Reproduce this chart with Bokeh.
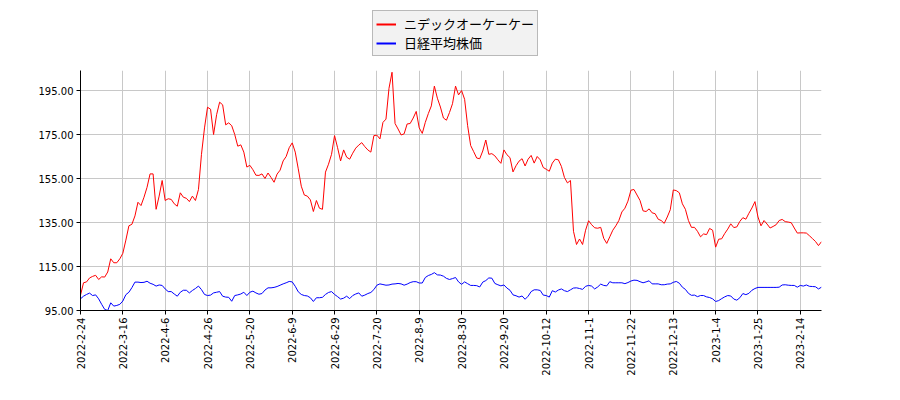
import math
from bokeh.plotting import figure
from bokeh.layouts import column
from bokeh.models import Range1d, FixedTicker, PrintfTickFormatter, Legend, LegendItem
from bokeh.embed import file_html
from bokeh.resources import INLINE

# daily closes, both series rebased to the same starting level
nidec_okk = [
    102, 107.6, 108, 109.8, 110.5, 111, 109.1, 110.3, 110.2, 112.5,
    118.5, 116.7, 116.7, 118.5, 121, 127, 133.5, 134.2, 138, 144.2,
    142.7, 146.5, 151, 157.1, 157.1, 141, 147, 154.1, 145, 145.8,
    145.5, 143.5, 142.4, 148.5, 146.5, 146, 144.5, 147, 145, 150,
    166, 178, 187.4, 186.5, 175, 184, 189.7, 188.5, 179.4, 180.3,
    179, 175, 169.7, 170.3, 167, 160.2, 161, 159, 156.5, 156.4,
    157.1, 155, 157.5, 155.5, 153.3, 157, 158.8, 163, 165, 169,
    171.2, 167, 159.4, 151.5, 147.5, 147, 145.3, 140, 145, 141.5,
    141, 157.9, 161.5, 166, 174.5, 169, 163, 168, 164.7, 163.8,
    166.5, 168.8, 170.2, 171.3, 169.5, 168, 167, 174.5, 174.7, 173,
    180.5, 182, 196, 203.3, 180, 177.5, 174.8, 175.3, 179.8, 180,
    182.5, 185.5, 178, 175.5, 180.5, 184.5, 188, 197, 191.5, 187.5,
    182.5, 181.5, 185, 189, 197, 193, 195, 191, 179, 170,
    167.2, 164.3, 164, 167.5, 172.5, 166, 166.3, 165.3, 163.5, 161.9,
    168, 165.8, 164.5, 158, 160.8, 162.9, 164, 160.7, 163.8, 165.5,
    162, 165, 163.5, 160, 159.2, 158.3, 162, 163.8, 163.5, 160.5,
    155.5, 153, 154.1, 131, 125, 127.5, 125, 131.5, 135.8, 134,
    132.6, 132.4, 132.8, 127.8, 125.5, 128.5, 131.5, 133.5, 135.9, 139.8,
    141.5, 144.7, 149.7, 150, 147.5, 145, 140.3, 140, 141.2, 139.4,
    139, 136.5, 135.9, 134.6, 137.5, 140.8, 149.8, 149.5, 148.5, 143.5,
    141, 135.9, 132.8, 132.8, 131, 128.5, 129.8, 129.5, 132.3, 131.5,
    123.8, 127.4, 127.6, 130, 132, 134.4, 132.7, 133, 135.5, 137.2,
    136.5, 139.2, 141.6, 144.5, 137.5, 133.5, 135.9, 134.3, 132.5, 133.2,
    134, 135.9, 136.4, 135.4, 135.2, 134.9, 132.5, 130.2, 130.3, 130.3,
    130.2, 129, 127.7, 126.4, 124.5, 126.3,
]

nikkei = [
    100.3, 101.5, 102.3, 102.9, 101.8, 102.1, 100.3, 97.8, 95.5, 95,
    98.5, 97, 97.3, 97.8, 99.3, 102.2, 103.3, 105.4, 107.9, 107.9,
    107.7, 107.8, 108.3, 107.4, 106.9, 106.1, 106.6, 106.4, 104.8, 103.6,
    103.6, 102.5, 101.5, 103.3, 104.2, 104.2, 103, 104.1, 105, 106.1,
    104.5, 102.3, 101.8, 102, 103, 103.3, 103.6, 101.5, 101.1, 101,
    99.2, 101.8, 102.1, 102.5, 103.3, 101.8, 103.3, 103.8, 103, 102.4,
    102.7, 104.3, 105.3, 105.3, 105.5, 105.9, 106.5, 107.1, 107.6, 108.2,
    108, 106, 103.5, 102.3, 101.8, 101.6, 100.8, 99.1, 100.8, 100.8,
    101, 102.3, 103.2, 103.6, 102.3, 101.3, 100.2, 100.6, 101.5, 100.4,
    101.8, 102.5, 103, 101.5, 102, 102.7, 103.2, 104.5, 106.5, 107.1,
    106.8, 106.5, 106.6, 107, 107.1, 107.3, 107.1, 106.5, 107, 107.7,
    108.1, 108.1, 107.5, 107.5, 110, 110.9, 111.4, 112.2, 111.2, 111.1,
    110.6, 109.6, 109.1, 109.5, 110, 108, 106.9, 108, 107.2, 106.4,
    106.4, 106.3, 105.7, 107.9, 108.6, 109.8, 109.7, 107.3, 106.7, 106.2,
    106.6, 105.2, 104.2, 102.1, 101.7, 101.1, 101.6, 100.1, 101.5, 103.6,
    104.4, 104.4, 104.1, 102, 101.8, 101.1, 104, 103.4, 104.3, 104.8,
    104, 103.6, 104.4, 105.2, 105.3, 105, 104.6, 106, 106.4, 106.1,
    104.8, 105.7, 107, 106.4, 106.2, 108.1, 107.6, 107.6, 107.6, 107.6,
    107.2, 107.7, 108.4, 108.8, 108.7, 108.1, 107.6, 108, 108.5, 107.1,
    107.1, 107.1, 106.7, 106.7, 107, 107.1, 107.8, 108.2, 107.4, 105.6,
    104.6, 102.8, 101.9, 102, 101.3, 101.8, 101.8, 101.2, 100.9, 100.3,
    99.1, 99.5, 100.4, 101.2, 101.8, 101.6, 100.2, 99.7, 100.8, 102.7,
    102.2, 102.8, 104.2, 105, 105.5, 105.5, 105.5, 105.5, 105.5, 105.5,
    105.5, 105.6, 106.6, 106.7, 106.5, 106.4, 106.4, 105.6, 106.4, 106.1,
    106.6, 106, 105.9, 105.8, 104.8, 105.6,
]

# one label every 14 trading days
date_labels = [
    "2022-2-24", "2022-3-16", "2022-4-6", "2022-4-26", "2022-5-20",
    "2022-6-9", "2022-6-29", "2022-7-20", "2022-8-9", "2022-8-30",
    "2022-9-20", "2022-10-12", "2022-11-1", "2022-11-22", "2022-12-13",
    "2023-1-4", "2023-1-25", "2023-2-14",
]
label_step = 14
y_ticks = [95, 115, 135, 155, 175, 195]

series_names = ["ニデックオーケーケー", "日経平均株価"]
series_colors = ["#ff0000", "#0000ff"]

x = list(range(len(nidec_okk)))
x_ticks = [i * label_step for i in range(len(date_labels))]

# main chart
p = figure(width=900, height=330, output_backend="svg", toolbar_location=None,
           x_range=Range1d(0, len(x) - 1), y_range=Range1d(95, 204.1),
           min_border_left=80, min_border_right=79,
           min_border_top=0, min_border_bottom=90)
p.outline_line_color = None

p.line(x, nidec_okk, line_color=series_colors[0], line_width=1)
p.line(x, nikkei, line_color=series_colors[1], line_width=1)

p.xaxis.ticker = FixedTicker(ticks=x_ticks)
p.xaxis.major_label_overrides = {t: lab for t, lab in zip(x_ticks, date_labels)}
p.xaxis.major_label_orientation = math.pi / 2
p.yaxis.ticker = FixedTicker(ticks=y_ticks)
p.yaxis.formatter = PrintfTickFormatter(format="%.2f")

for ax in (p.xaxis, p.yaxis):
    ax.axis_line_color = "black"
    ax.major_tick_line_color = "black"
    ax.major_tick_in = 0
    ax.major_tick_out = 4
    ax.minor_tick_line_color = None
    ax.major_label_text_font = "DejaVu Sans"
    ax.major_label_text_font_size = "10px"
    ax.major_label_text_color = "black"
    ax.major_label_standoff = 3

p.xgrid.grid_line_color = "#c8c8c8"
p.ygrid.grid_line_color = "#c8c8c8"

# legend band on top: same series, drawn off-range so only the legend shows
top = figure(width=900, height=70, output_backend="svg", toolbar_location=None,
             x_range=Range1d(0, len(x) - 1), y_range=Range1d(0, 1),
             x_axis_location=None, y_axis_location=None,
             min_border_left=80, min_border_right=79,
             min_border_top=0, min_border_bottom=0)
top.outline_line_color = None
top.grid.visible = False
l1 = top.line(x, nidec_okk, line_color=series_colors[0], line_width=2)
l2 = top.line(x, nikkei, line_color=series_colors[1], line_width=2)

legend = Legend(items=[LegendItem(label=series_names[0], renderers=[l1]),
                       LegendItem(label=series_names[1], renderers=[l2])],
                location=(292, 14))
legend.label_text_font = "Noto Sans CJK JP"
legend.label_text_font_size = "13px"
legend.label_text_color = "black"
legend.glyph_width = 20
legend.glyph_height = 14
legend.label_height = 14
legend.label_standoff = 8
legend.padding = 3
legend.spacing = 0
legend.margin = 0
legend.border_line_color = "#808080"
legend.background_fill_color = "#f2f2f2"
legend.background_fill_alpha = 1
top.add_layout(legend, "center")

layout = column(top, p, spacing=0)
open("out.html", "w").write(file_html(layout, INLINE))
